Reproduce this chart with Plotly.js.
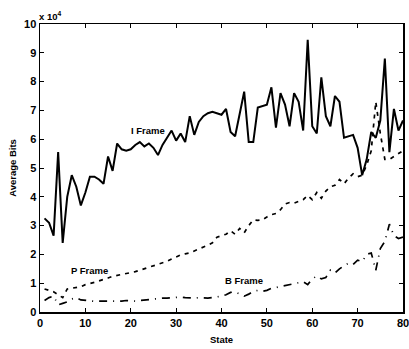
<!DOCTYPE html>
<html>
<head>
<meta charset="utf-8">
<script src="https://cdn.plot.ly/plotly-3.0.1.min.js"></script>
<style>
  html, body { margin: 0; padding: 0; background: #fff; }
  #chart { width: 409px; height: 349px; }
</style>
</head>
<body>
<div id="chart"></div>
<script>
// Average bits per frame type for each state (values in units of 10^4 bits)
const states = Array.from({length: 80}, (_, i) => i + 1);

const iFrame = [
  3.25, 3.1, 2.65, 5.55, 2.4, 4.0, 4.75, 4.35, 3.7, 4.15,
  4.7, 4.7, 4.6, 4.45, 5.4, 4.9, 5.85, 5.65, 5.6, 5.65,
  5.8, 5.9, 5.75, 5.85, 5.7, 5.45, 5.8, 6.05, 6.3, 5.95,
  6.2, 5.9, 6.8, 6.15, 6.6, 6.8, 6.9, 6.95, 6.9, 6.85,
  7.05, 6.25, 6.1, 6.9, 7.65, 5.9, 5.9, 7.1, 7.15, 7.2,
  7.8, 6.4, 7.6, 7.2, 6.45, 7.6, 7.3, 6.3, 9.45, 6.45,
  6.2, 8.15, 6.8, 6.45, 7.5, 7.3, 6.05, 6.1, 6.15, 5.7,
  4.75, 5.3, 6.25, 6.05, 6.65, 8.8, 5.55, 7.05, 6.3, 6.65
];

const pFrame = [
  0.8, 0.75, 0.7, 0.6, 0.5, 0.8, 0.83, 0.86, 0.88, 0.95,
  0.98, 1.03, 1.08, 1.12, 1.18, 1.24, 1.27, 1.3, 1.32, 1.36,
  1.4, 1.45, 1.5, 1.55, 1.6, 1.65, 1.7, 1.76, 1.84, 1.92,
  1.98, 2.02, 2.05, 2.12, 2.18, 2.25, 2.32, 2.4, 2.6, 2.65,
  2.7, 2.82, 2.7, 2.9, 2.75, 3.0, 3.2, 3.18, 3.2, 3.3,
  3.38, 3.42, 3.55, 3.75, 3.8, 3.78, 3.85, 3.9, 4.05, 3.9,
  4.15, 3.95, 4.2, 4.35, 4.4, 4.6, 4.45, 4.65, 4.8, 4.7,
  4.75, 5.1, 5.6, 7.3, 6.2, 5.3, 5.3, 5.4, 5.5, 5.6
];

const bFrame = [
  0.4, 0.5, 0.55, 0.25, 0.3, 0.35, 0.45, 0.5, 0.42, 0.4,
  0.38, 0.37, 0.38, 0.38, 0.37, 0.37, 0.38, 0.38, 0.4, 0.38,
  0.38, 0.4, 0.42, 0.44, 0.46, 0.48, 0.48, 0.48, 0.5, 0.5,
  0.52, 0.5, 0.48, 0.48, 0.5, 0.48, 0.48, 0.5, 0.52, 0.55,
  0.6, 0.68, 0.7, 0.62, 0.55, 0.62, 0.72, 0.75, 0.72, 0.75,
  0.82, 0.85, 0.88, 0.92, 0.95, 0.98, 1.02, 1.05, 0.95, 1.15,
  1.25, 1.15, 1.2, 1.45, 1.35, 1.5, 1.6, 1.7, 1.65, 1.8,
  1.75, 2.0, 2.05, 1.45, 2.2, 2.45, 3.05, 2.65, 2.55, 2.6
];

// Curve labels: [text, x, y]
const labels = [
  ["I Frame", 23.7, 6.3],
  ["P Frame", 11, 1.45],
  ["B Frame", 45, 1.1]
];

const xTicks = [0, 10, 20, 30, 40, 50, 60, 70, 80];
const yTicks = [0, 1, 2, 3, 4, 5, 6, 7, 8, 9, 10];

const family = "Liberation Sans, Arial, sans-serif";
const tickFont = {family: family, size: 11, color: "#000", weight: 700};
const smallFont = {family: family, size: 9.5, color: "#000", weight: 700};

const traces = [
  {x: states, y: iFrame, name: "I Frame", mode: "lines",
   line: {color: "#000", width: 2}},
  {x: states, y: pFrame, name: "P Frame", mode: "lines",
   line: {color: "#000", width: 1.7, dash: "4px,5px"}},
  {x: states, y: bFrame, name: "B Frame", mode: "lines",
   line: {color: "#000", width: 1.7, dash: "8px,6px,1px,6px"}}
];

const axisCommon = {
  showline: true, linecolor: "#000", linewidth: 1.5, mirror: "ticks",
  ticks: "inside", ticklen: 4, tickwidth: 1, tickcolor: "#000",
  showgrid: false, zeroline: false, tickfont: tickFont,
  ticklabeloverflow: "allow"
};

const annotations = labels.map(([t, x, y]) => ({
  text: t, x: x, y: y, xref: "x", yref: "y", showarrow: false,
  font: smallFont
}));
annotations.push({
  text: "x 10<sup>4</sup>", xref: "paper", yref: "paper", x: 0, y: 1,
  xanchor: "left", yanchor: "bottom", xshift: -3, yshift: 0, showarrow: false,
  font: smallFont
});

const layout = {
  width: 409, height: 349,
  margin: {l: 40, r: 6, t: 24, b: 37},
  paper_bgcolor: "#fff", plot_bgcolor: "#fff",
  showlegend: false,
  font: tickFont,
  xaxis: Object.assign({}, axisCommon, {
    range: [0, 80], tickvals: xTicks, ticktext: xTicks.map(String),
    title: {text: "State", font: smallFont, standoff: 8}
  }),
  yaxis: Object.assign({}, axisCommon, {
    range: [0, 10], tickvals: yTicks, ticktext: yTicks.map(String),
    title: {text: "Average Bits", font: smallFont, standoff: 5}
  }),
  annotations: annotations
};

Plotly.newPlot("chart", traces, layout, {staticPlot: true, displayModeBar: false});
</script>
</body>
</html>
